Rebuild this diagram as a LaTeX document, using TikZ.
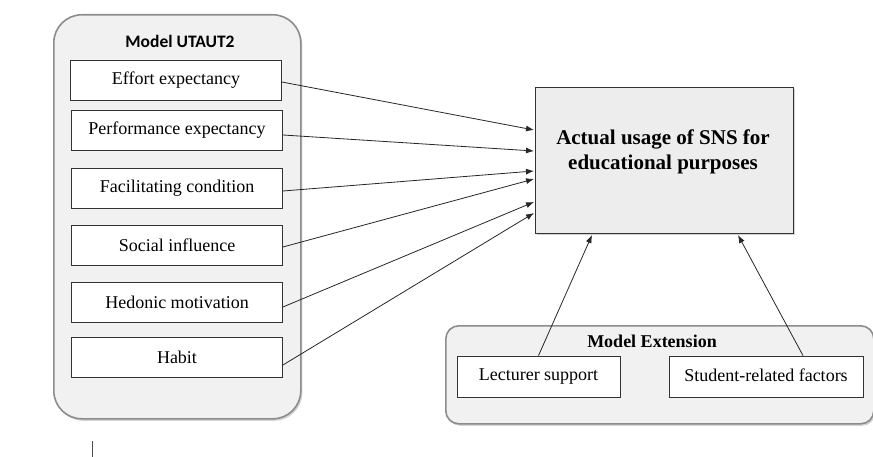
\documentclass[tikz,border=0pt]{standalone}
\usepackage{fontspec}
\setmainfont{Liberation Serif}
\newfontfamily\titlesans{Carlito}
\usetikzlibrary{shadows,arrows.meta}
\definecolor{panelfill}{HTML}{F1F1F1}
\definecolor{panelline}{HTML}{8C8C8C}
\definecolor{mainfill}{HTML}{EDEDED}
\tikzset{
  panel/.style={draw=panelline, line width=1.6pt, fill=panelfill, drop shadow={shadow xshift=1.5pt, shadow yshift=-2pt, opacity=0.35}},
  factor/.style={draw=black!80, line width=0.8pt, fill=white, minimum width=211pt, minimum height=40pt, inner sep=0pt, font=\fontsize{18}{20}\selectfont},
  extbox/.style={draw=black!80, line width=0.8pt, fill=white, minimum height=41pt, inner sep=0pt, font=\fontsize{18}{20}\selectfont},
  link/.style={draw=black!85, line width=0.8pt, -{Latex[length=8pt,width=6pt]}},
}
\begin{document}
\begin{tikzpicture}[x=1pt,y=-1pt]
\useasboundingbox (0,0) rectangle (873,457);
% left panel
\node[panel, rounded corners=28pt, minimum width=247pt, minimum height=404pt, anchor=north west] (utaut) at (53,14) {};
\node[font=\titlesans\bfseries\fontsize{17.5}{19}\selectfont] (utauttitle) at (180,41) {Model UTAUT2};
\node[factor] (f1) at (176,80) {Effort expectancy};
\node[factor] (f2) at (177,130) {Performance expectancy};
\node[factor] (f3) at (177,188) {Facilitating condition};
\node[factor] (f4) at (177,245) {Social influence};
\node[factor] (f5) at (177,302) {Hedonic motivation};
\node[factor] (f6) at (177,357) {Habit};
% main box
\node[draw=black!80, line width=1pt, fill=mainfill, drop shadow={shadow xshift=1.5pt, shadow yshift=-2pt, opacity=0.35}, minimum width=258pt, minimum height=146pt, anchor=north west] (main) at (535,87) {};
\node[font=\bfseries\fontsize{21}{25}\selectfont, align=center] (maintext) at (663,152) {Actual usage of SNS for\\educational purposes};
% extension panel
\node[panel, rounded corners=13pt, minimum width=428pt, minimum height=98pt, anchor=north west] (ext) at (445,325) {};
\node[font=\bfseries\fontsize{18}{20}\selectfont] (exttitle) at (652,341) {Model Extension};
\node[extbox, minimum width=163pt] (lect) at (538.5,376.5) {Lecturer support};
\node[extbox, minimum width=194pt] (stud) at (766,376.5) {\raisebox{3pt}{Student-related factors}};
% small tick
\coordinate (tickA) at (92,441);
\coordinate (tickB) at (92,457);
\draw[black!70, line width=0.8pt] (tickA) -- (tickB);
% arrows
\coordinate (t1) at (534,130);
\coordinate (t2) at (534,151);
\coordinate (t3) at (534,171);
\coordinate (t4) at (534,179);
\coordinate (t5) at (534,202);
\coordinate (t6) at (534,213);
\draw[link] ([yshift=-2pt]f1.east) -- (t1);
\draw[link] ([yshift=-5pt]f2.east) -- (t2);
\draw[link] ([yshift=-3pt]f3.east) -- (t3);
\draw[link] ([yshift=-2pt]f4.east) -- (t4);
\draw[link] ([yshift=-5pt]f5.east) -- (t5);
\draw[link] ([yshift=-8pt]f6.east) -- (t6);
\coordinate (m1) at (592,235);
\coordinate (m2) at (738,235);
\draw[link] (lect.north) -- (m1);
\draw[link] ([xshift=37pt]stud.north) -- (m2);
\end{tikzpicture}
\end{document}
